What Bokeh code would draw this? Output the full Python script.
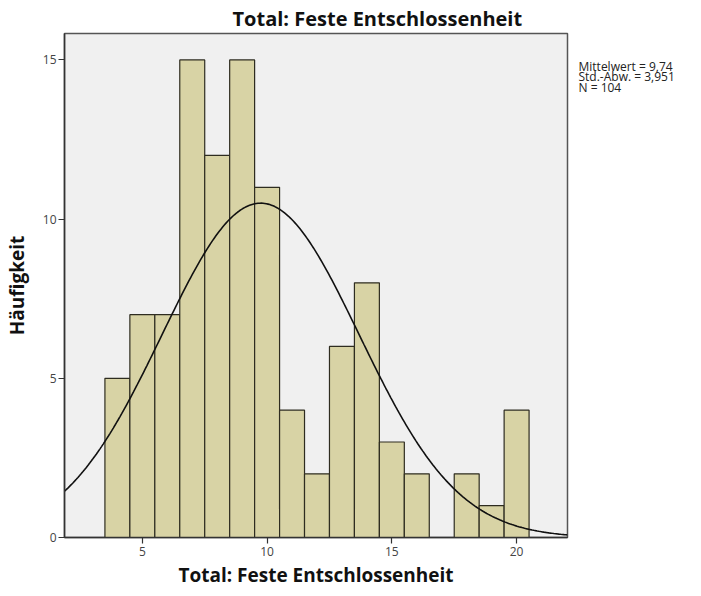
import numpy as np
from bokeh.plotting import figure
from bokeh.layouts import row
from bokeh.models import ColumnDataSource, Range1d, FixedTicker
from bokeh.core.properties import value
from bokeh.embed import file_html
from bokeh.resources import INLINE

# Data
bin_centers = [4, 5, 6, 7, 8, 9, 10, 11, 12, 13, 14, 15, 16, 17, 18, 19, 20]
counts = [5, 7, 7, 15, 12, 15, 11, 4, 2, 6, 8, 3, 2, 0, 2, 1, 4]
mean_val = 9.74
sd_val = 3.951
n_val = 104
bin_width = 1.0
x_ticks = [5, 10, 15, 20]
y_ticks = [0, 5, 10, 15]
stats_lines = ["Mittelwert = 9,74", "Std.-Abw. = 3,951", "N = 104"]
title_text = "Total: Feste Entschlossenheit"
x_label = "Total: Feste Entschlossenheit"
y_label = "Häufigkeit"

FONT = "Open Sans"
H = 590
TOP, BOTTOM = 33, 537
X0, X1 = 1.88, 22.04

p = figure(width=572, height=H, output_backend="svg", toolbar_location=None,
           x_range=Range1d(X0, X1), y_range=Range1d(0, 15.83))
p.min_border_left = 63
p.min_border_right = 5
p.min_border_top = TOP
p.min_border_bottom = H - BOTTOM

p.background_fill_color = "#f0f0f0"
p.border_fill_color = "white"
p.outline_line_color = "#555555"
p.outline_line_width = 1.5
p.xgrid.visible = False
p.ygrid.visible = False

p.title.text = title_text
p.title.align = "left"
p.title.offset = 168
p.title.text_font = FONT
p.title.text_font_size = "20px"
p.title.text_font_style = "bold"
p.title.text_color = "#111111"
p.title.standoff = 3

src = ColumnDataSource(dict(x=bin_centers, top=counts))
p.vbar(x="x", top="top", bottom=0, width=bin_width, source=src,
       fill_color="#d8d3a5", line_color="#2e2c20", line_width=1.2)

xs = np.linspace(X0, X1, 300)
ys = n_val * bin_width / (sd_val * np.sqrt(2 * np.pi)) * np.exp(-0.5 * ((xs - mean_val) / sd_val) ** 2)
p.line(xs, ys, line_color="#111111", line_width=1.6)

for ax, ticks in ((p.xaxis, x_ticks), (p.yaxis, y_ticks)):
    ax.ticker = FixedTicker(ticks=ticks)
    ax.minor_tick_line_color = None
    ax.major_tick_in = 0
    ax.major_tick_out = 6
    ax.axis_line_color = "#333333"
    ax.axis_line_width = 1.5
    ax.major_tick_line_color = "#333333"
    ax.major_tick_line_width = 1.2
    ax.major_label_text_font = FONT
    ax.major_label_text_font_size = "12px"
    ax.major_label_text_color = "#444444"
    ax.axis_label_text_font = FONT
    ax.axis_label_text_font_size = "19px"
    ax.axis_label_text_font_style = "bold"
    ax.axis_label_text_color = "#111111"

p.xaxis.axis_label = x_label
p.yaxis.axis_label = y_label
p.xaxis.major_label_standoff = 3
p.yaxis.major_label_standoff = 2
p.xaxis.axis_label_standoff = 3
p.yaxis.axis_label_standoff = 10

# side panel with summary statistics (its frame is aligned with the main frame)
W2 = 701 - 572 - 2
p2 = figure(width=W2, height=H, output_backend="svg", toolbar_location=None,
            title=None, x_axis_location=None, y_axis_location=None,
            x_range=Range1d(0, W2), y_range=Range1d(BOTTOM, TOP))
p2.min_border_left = p2.min_border_right = 0
p2.min_border_top = TOP
p2.min_border_bottom = H - BOTTOM
p2.grid.visible = False
p2.outline_line_color = None
p2.background_fill_color = "white"
p2.border_fill_color = "white"
stats_src = ColumnDataSource(dict(x=[6, 6, 6], y=[65.5, 76, 86.5], t=stats_lines))
p2.text(x="x", y="y", text="t", source=stats_src, text_font=value(FONT),
        text_font_size="12px", text_color="#222222",
        text_baseline="middle", text_align="left")

layout = row(p, p2, spacing=0)
open("out.html", "w").write(file_html(layout, INLINE))
